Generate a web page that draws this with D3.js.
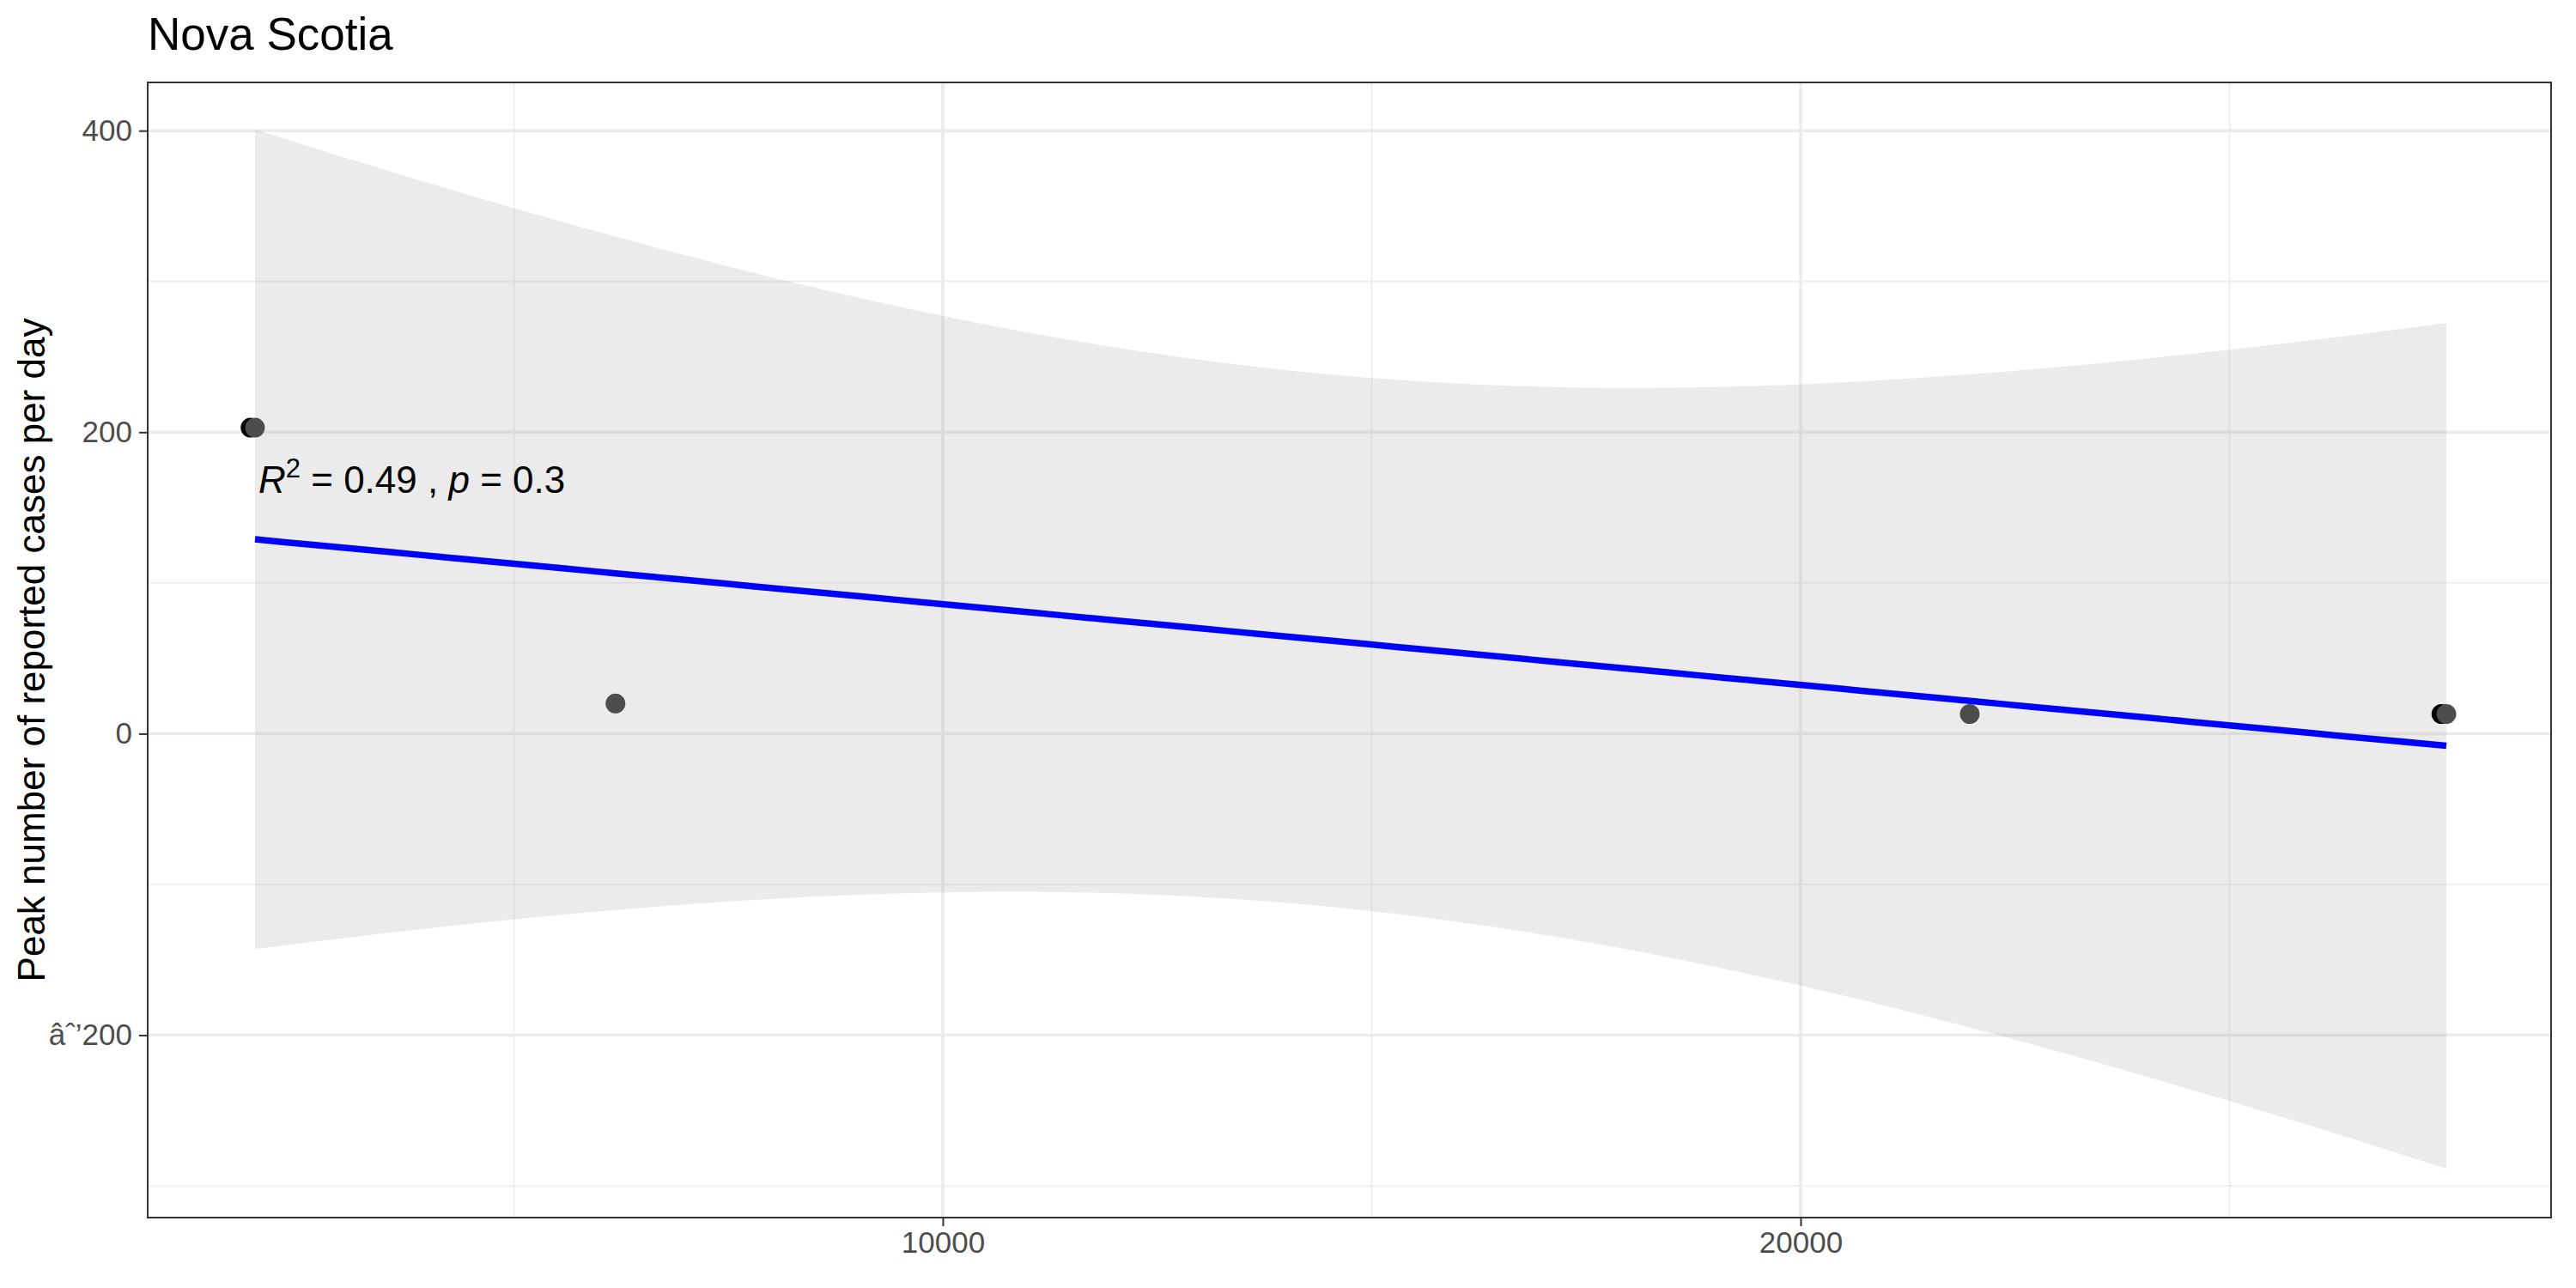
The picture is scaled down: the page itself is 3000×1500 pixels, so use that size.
<script src="https://d3js.org/d3.v7.min.js"></script>
<body style="margin:0">
<svg width=3000 height=1500></svg>
<script>
// data
var xs = [1982, 6184, 21972, 27528]
var ys = [203, 20, 13, 13]
var xsDup = [1930, 27470]   // overlapping black points
var ysDup = [203, 13]
var xTicks = [10000, 20000]
var xMinor = [5000, 15000, 25000]
var yTicks = [-200, 0, 200, 400]
var yMinor = [-300, -100, 100, 300]

var svg = d3.select('svg')
var m = {l: 172, r: 2971, t: 96, b: 1418}
var x = d3.scaleLinear().domain([731, 28749]).range([m.l, m.r])
var y = d3.scaleLinear().domain([-321, 432]).range([m.b, m.t])
var font = "'Liberation Sans', Arial, sans-serif"

// linear fit + 95% band (like geom_smooth(method = lm))
var n = xs.length
var mx = d3.mean(xs), my = d3.mean(ys)
var sxx = d3.sum(xs, v => (v - mx) * (v - mx))
var sxy = d3.sum(xs, (v, i) => (v - mx) * (ys[i] - my))
var b1 = sxy / sxx, b0 = my - b1 * mx
var sse = d3.sum(xs, (v, i) => Math.pow(ys[i] - (b0 + b1 * v), 2))
var s = Math.sqrt(sse / (n - 2))
var tq = 4.302653
var grid = d3.range(80).map(i => xs[0] + (xs[n - 1] - xs[0]) * i / 79)
var band = grid.map(v => {
  var fit = b0 + b1 * v
  var se = s * Math.sqrt(1 / n + (v - mx) * (v - mx) / sxx)
  return {x: v, fit: fit, lo: fit - tq * se, hi: fit + tq * se}
})

  // grid
  svg.selectAll('.ymin').data(yMinor).enter().append('line')
    .attr('x1', m.l).attr('x2', m.r).attr('y1', d => y(d)).attr('y2', d => y(d))
    .attr('stroke', '#ebebeb').attr('stroke-width', 1.5)
  svg.selectAll('.xmin').data(xMinor).enter().append('line')
    .attr('y1', m.t).attr('y2', m.b).attr('x1', d => x(d)).attr('x2', d => x(d))
    .attr('stroke', '#ebebeb').attr('stroke-width', 1.5)
  svg.selectAll('.ymaj').data(yTicks).enter().append('line')
    .attr('x1', m.l).attr('x2', m.r).attr('y1', d => y(d)).attr('y2', d => y(d))
    .attr('stroke', '#ebebeb').attr('stroke-width', 3.5)
  svg.selectAll('.xmaj').data(xTicks).enter().append('line')
    .attr('y1', m.t).attr('y2', m.b).attr('x1', d => x(d)).attr('x2', d => x(d))
    .attr('stroke', '#ebebeb').attr('stroke-width', 3.5)

  // ribbon
  svg.append('path')
    .attr('d', d3.area().x(d => x(d.x)).y0(d => y(d.lo)).y1(d => y(d.hi))(band))
    .attr('fill', '#999999').attr('fill-opacity', 0.2)

  // points
  svg.selectAll('.dup').data(xsDup).enter().append('circle')
    .attr('cx', d => x(d)).attr('cy', (d, i) => y(ysDup[i])).attr('r', 11.5).attr('fill', '#000')
  svg.selectAll('.pt').data(xs).enter().append('circle')
    .attr('cx', d => x(d)).attr('cy', (d, i) => y(ys[i])).attr('r', 11.5).attr('fill', '#4d4d4d')

  // fit line
  svg.append('path')
    .attr('d', d3.line().x(d => x(d.x)).y(d => y(d.fit))(band))
    .attr('fill', 'none').attr('stroke', '#0000ff').attr('stroke-width', 7.5)

  // annotation
  var ann = svg.append('text').attr('x', x(xs[0]) + 4).attr('y', y(160))
    .attr('font-family', font).attr('font-size', 44)
  ann.append('tspan').attr('font-style', 'italic').text('R')
  ann.append('tspan').attr('dy', -18).attr('font-size', 31).text('2')
  ann.append('tspan').attr('dy', 18).text(' = 0.49 , ')
  ann.append('tspan').attr('font-style', 'italic').text('p')
  ann.append('tspan').text(' = 0.3')

  // panel border
  svg.append('rect').attr('x', m.l).attr('y', m.t).attr('width', m.r - m.l).attr('height', m.b - m.t)
    .attr('fill', 'none').attr('stroke', '#333333').attr('stroke-width', 2)

  // axes
  var ya = svg.append('g').attr('transform', 'translate(' + m.l + ',0)')
    .call(d3.axisLeft(y).tickValues(yTicks).tickSize(10).tickPadding(8))
  var xa = svg.append('g').attr('transform', 'translate(0,' + m.b + ')')
    .call(d3.axisBottom(x).tickValues(xTicks).tickSize(10).tickPadding(6).tickFormat(d3.format('d')))
  ;[ya, xa].forEach(a => {
    a.select('.domain').remove()
    a.selectAll('line').attr('stroke', '#333333').attr('stroke-width', 2)
    a.selectAll('text').attr('font-family', font).attr('font-size', 35).attr('fill', '#4d4d4d')
  })

  svg.append('text').attr('x', m.l).attr('y', 58)
    .attr('font-family', font).attr('font-size', 53).text('Nova Scotia')
  svg.append('text').attr('transform', 'translate(52,' + ((m.t + m.b) / 2) + ') rotate(-90)')
    .attr('text-anchor', 'middle').attr('font-family', font).attr('font-size', 44)
    .text('Peak number of reported cases per day')
</script>
</body>
